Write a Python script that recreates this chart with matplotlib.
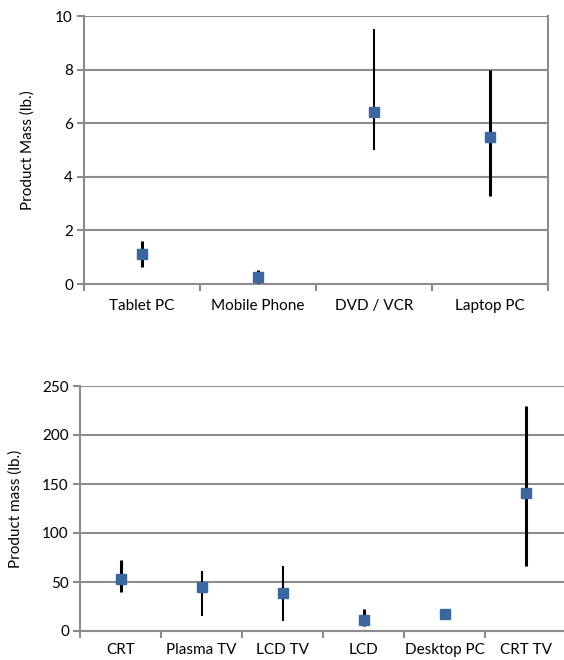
import matplotlib.pyplot as plt
import numpy as np

# upper panel: small products
small_cats = ['Tablet PC', 'Mobile Phone', 'DVD / VCR', 'Laptop PC']
small_mass = [1.13, 0.25, 6.43, 5.5]
small_low = [0.65, 0.05, 5.0, 3.3]
small_high = [1.6, 0.52, 9.5, 8.0]

# lower panel: large products
large_cats = ['CRT', 'Plasma TV', 'LCD TV', 'LCD', 'Desktop PC', 'CRT TV']
large_mass = [53, 45, 39, 11, 17, 141]
large_low = [40, 15, 10, 5, 15, 66]
large_high = [72, 61, 66, 22, 20, 230]

small_lw = [2.2, 2.2, 1.5, 2.2]
large_lw = [2.2, 1.5, 1.5, 2.2, 2.2, 2.2]

GRID = '#8c8c8c'
BLUE = '#3a67a0'

plt.rcParams['font.family'] = ['Lato', 'DejaVu Sans']
plt.rcParams['font.size'] = 11

fig = plt.figure(figsize=(5.64, 6.6), dpi=100)
W, H = 564, 660


def panel(rect, cats, mass, low, high, lws, ymax, step, ylabel, right_spine, xpad):
    ax = fig.add_axes(rect)
    x = np.arange(len(cats))
    for xi, m, lo, hi, lw in zip(x, mass, low, high, lws):
        ax.vlines(xi, lo, hi, color='black', lw=lw, zorder=3)
    ax.plot(x, mass, 's', color=BLUE, ms=7, mec=BLUE, zorder=4)
    ax.set_xlim(-0.5, len(cats) - 0.5)
    ax.set_ylim(0, ymax)
    ax.set_yticks(np.arange(0, ymax + step / 2, step))
    ax.yaxis.grid(True, color=GRID, lw=1.5)
    ax.set_axisbelow(True)
    ax.set_xticks(x)
    ax.set_xticklabels(cats)
    ax.set_xticks(np.arange(-0.5, len(cats)), minor=True)
    ax.tick_params(axis='x', which='major', length=0, pad=xpad)
    ax.tick_params(axis='x', which='minor', length=5, width=1.5, color=GRID)
    ax.tick_params(axis='y', length=5, width=1.5, color=GRID, pad=3)
    for s in ['left', 'bottom', 'top', 'right']:
        ax.spines[s].set_color(GRID)
        ax.spines[s].set_linewidth(1.5)
    ax.spines['right'].set_visible(right_spine)
    ax.spines['top'].set_visible(False)
    ax.set_ylabel(ylabel)
    return ax


ax1 = panel([84 / W, 1 - 284 / H, 464 / W, 268 / H], small_cats, small_mass,
            small_low, small_high, small_lw, 10, 2, 'Product Mass (lb.)', True, 10.5)
ax1.yaxis.set_label_coords(-49 / 464, 0.5)

ax2 = panel([80 / W, 1 - 631 / H, 486 / W, 245 / H], large_cats, large_mass,
            large_low, large_high, large_lw, 250, 50, 'Product mass (lb.)', False, 8.5)
ax2.yaxis.set_label_coords(-57 / 486, 0.5)

fig.savefig('out.png', dpi=100)
